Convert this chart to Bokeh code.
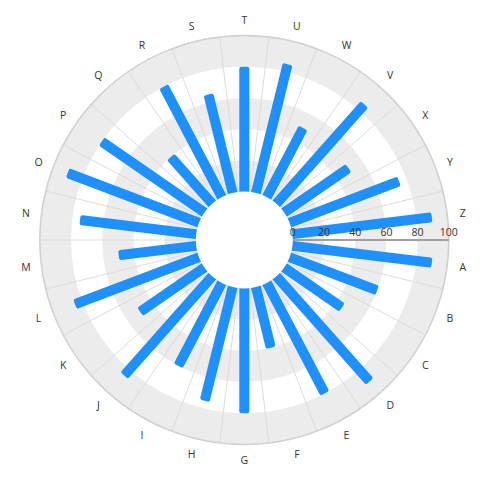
import numpy as np
from bokeh.plotting import figure
from bokeh.models import Range1d, ColumnDataSource
from bokeh.core.properties import value
from bokeh.embed import file_html
from bokeh.resources import INLINE

# ---- data ----
categories = ["A", "B", "C", "D", "E", "F", "G", "H", "I", "J", "K", "L", "M",
              "N", "O", "P", "Q", "R", "S", "T", "U", "W", "V", "X", "Y", "Z"]
values = [90, 60, 45, 90, 80, 40, 80, 75, 60, 85, 50, 85, 50,
          75, 90, 80, 40, 80, 65, 80, 85, 50, 85, 50, 75, 90]
tick_values = [0, 20, 40, 60, 80, 100]
tick_labels = ["0", "20", "40", "60", "80", "100"]

# ---- geometry (pixels) ----
W, H = 491, 480
CX, CY = 243.8, 239.5          # centre position inside the canvas (from left / top)
R0 = 48.5                      # radius of value 0
R1 = 204.5                     # radius of value 100
VMAX = 100.0
def rad(v):
    return R0 + (R1 - R0) * np.asarray(v, dtype=float) / VMAX

n = len(categories)
step = 2 * np.pi / n
centers = -(np.arange(n) + 0.5) * step     # clockwise from east

p = figure(width=W, height=H, output_backend="svg", toolbar_location=None,
           x_range=Range1d(-CX, W - CX), y_range=Range1d(-(H - CY), CY),
           min_border=0)
p.axis.visible = False
p.grid.visible = False
p.outline_line_color = None
p.background_fill_color = "white"
p.border_fill_color = "white"

# alternating bands
band_edges = tick_values
for i in range(len(band_edges) - 1):
    if i % 2 == 0:
        p.annulus(x=0, y=0, inner_radius=rad(band_edges[i]), outer_radius=rad(band_edges[i + 1]),
                  fill_color="#ececec", line_color=None)

# spokes at category boundaries
bounds = -np.arange(n) * step
r_in, r_out = rad(0), rad(VMAX)
p.segment(x0=r_in * np.cos(bounds), y0=r_in * np.sin(bounds),
          x1=r_out * np.cos(bounds), y1=r_out * np.sin(bounds),
          line_color="#dcdcdc", line_width=1)

# outer circle
p.circle(x=0, y=0, radius=rad(VMAX), fill_color=None, line_color="#d0d0d0", line_width=1.5)

# bars
r_start = rad(0) - 8
r_end = rad(values)
mid = (r_start + r_end) / 2
src = ColumnDataSource(dict(x=mid * np.cos(centers), y=mid * np.sin(centers),
                            w=r_end - r_start, a=centers))
p.rect(x="x", y="y", width="w", height=10, angle="a", source=src,
       fill_color="#1e90ff", line_color=None, border_radius=2)

# hole
p.circle(x=0, y=0, radius=rad(0), fill_color="white", line_color=None)

# radial axis
p.segment(x0=rad(0), y0=0, x1=rad(VMAX), y1=0, line_color="#a0a0a0", line_width=2)
p.text(x=rad(tick_values), y=[8] * len(tick_values), text=tick_labels,
       text_align="center", text_baseline="middle", text_font=value("Open Sans"),
       text_font_size="10.5px", text_color="#333333")

# category labels
LR = 220
p.text(x=LR * np.cos(centers), y=LR * np.sin(centers), text=categories,
       text_align="center", text_baseline="middle", text_font=value("Open Sans"),
       text_font_size="10.5px", text_color="#333333")

open("out.html", "w").write(file_html(p, INLINE))
